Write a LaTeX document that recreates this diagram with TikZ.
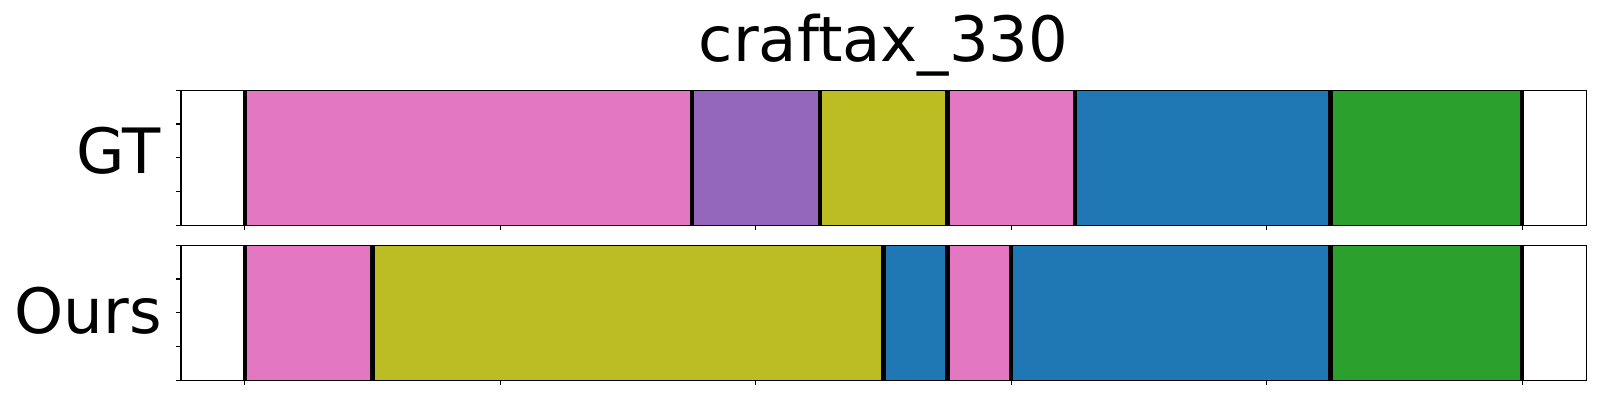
\documentclass[tikz,border=0pt]{standalone}
\usepackage{fontspec}
\setmainfont{DejaVu Sans}
\usetikzlibrary{positioning}

\definecolor{tabpink}{HTML}{E377C2}
\definecolor{tabpurple}{HTML}{9467BD}
\definecolor{tabolive}{HTML}{BCBD22}
\definecolor{tabblue}{HTML}{1F77B4}
\definecolor{tabgreen}{HTML}{2CA02C}

\tikzset{
    bound/.style={line width=2.15pt, black},
    spine/.style={line width=0.55pt, black},
    tickmark/.style={line width=0.55pt, black},
    bigtext/.style={inner sep=0pt, font=\fontsize{31.25}{31.25}\selectfont}
}

\begin{document}
\begin{tikzpicture}[x=0.5pt, y=-0.5pt]
        \useasboundingbox (0,0) rectangle (1600,400);

        \node[bigtext, anchor=base] (title) at (883.5, 61.7) {craftax\_330};
        \node[bigtext, anchor=base east] (gt) at (161, 174) {GT};
        \node[bigtext, anchor=base east] (ours) at (162, 334) {Ours};

        % GT panel
        \begin{scope}[shift={(244.9, 90.3)}, x=31.932pt]
            \foreach \a/\b/\c in {0/7/tabpink, 7/9/tabpurple, 9/11/tabolive, 11/13/tabpink, 13/17/tabblue, 17/20/tabgreen}
                \fill[\c] (\a, 0) rectangle (\b, 135);
            \foreach \a in {0, 7, 9, 11, 13, 17, 20}
                \draw[bound] (\a, 0) -- (\a, 135);
            \draw[spine] (-1, 0) rectangle (21, 135);
            \foreach \t in {0, 33.75, 67.5, 101.25, 135}
                \draw[tickmark] (-1, \t) -- ++(-0.077, 0);
            \foreach \u in {0, 4, ..., 20}
                \draw[tickmark] (\u, 135) -- ++(0, 4.9);
        \end{scope}

        % Ours panel
        \begin{scope}[shift={(244.9, 245.3)}, x=31.932pt]
            \foreach \a/\b/\c in {0/2/tabpink, 2/10/tabolive, 10/11/tabblue, 11/12/tabpink, 12/17/tabblue, 17/20/tabgreen}
                \fill[\c] (\a, 0) rectangle (\b, 135);
            \foreach \a in {0, 2, 10, 11, 12, 17, 20}
                \draw[bound] (\a, 0) -- (\a, 135);
            \draw[spine] (-1, 0) rectangle (21, 135);
            \foreach \t in {0, 33.75, 67.5, 101.25, 135}
                \draw[tickmark] (-1, \t) -- ++(-0.077, 0);
            \foreach \u in {0, 4, ..., 20}
                \draw[tickmark] (\u, 135) -- ++(0, 4.9);
        \end{scope}
    \end{tikzpicture}
\end{document}
